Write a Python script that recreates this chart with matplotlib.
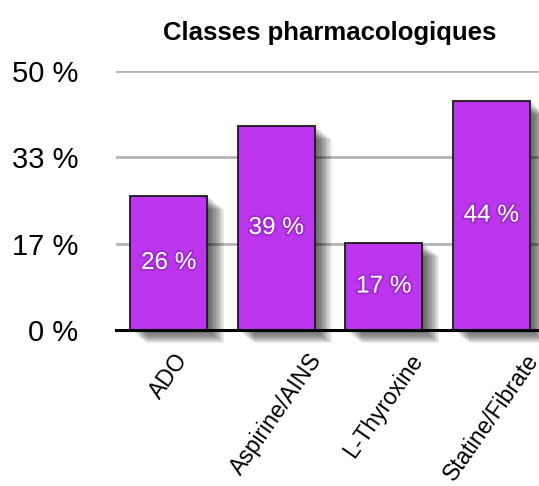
import numpy as np
import matplotlib
matplotlib.use('Agg')
import matplotlib.pyplot as plt
import matplotlib.patheffects as pe

# data
categories = ['ADO', 'Aspirine/AINS', 'L-Thyroxine', 'Statine/Fibrate']
values = [25.9, 39.4, 16.8, 44.2]
yticks = [0, 50/3., 100/3., 50]
yticklabels = ['0 %', '17 %', '33 %', '50 %']

plt.rcParams['font.family'] = ['Liberation Sans', 'DejaVu Sans']

fig = plt.figure(figsize=(5.39, 4.86), dpi=100)
ax = fig.add_axes([116/539., 156/486., 428/539., 259/486.])

x = np.arange(len(categories))
# soft drop shadow: many thin offset layers
shadow = [pe.SimplePatchShadow(offset=(k, -0.8*k), shadow_rgbFace='k', alpha=0.07)
          for k in range(12, 0, -1)] + [pe.Normal()]
bars = ax.bar(x, values, width=0.72, color='#bc36ee', edgecolor='#1a1a1a',
              linewidth=1.3, zorder=3, clip_on=False)
for b in bars:
    b.set_path_effects(shadow)

for xi, v in zip(x, values):
    t = ax.text(xi, v/2., '%.0f %%' % v, ha='center', va='center',
                color='white', fontsize=17.5, zorder=4)
    t.set_path_effects([pe.Stroke(linewidth=3, foreground='#6a1488', alpha=0.3), pe.Normal()])

ax.set_xlim(-0.49, 3.49)
ax.set_ylim(0, 50)
ax.set_yticks(yticks)
ax.set_yticklabels(yticklabels, fontsize=21)
ax.set_xticks(x)
ax.set_xticklabels(categories, rotation=55, ha='center', va='top', fontsize=16.5)
ax.tick_params(axis='both', length=0)
ax.tick_params(axis='y', pad=27)
ax.tick_params(axis='x', pad=14)

ax.yaxis.grid(True, color='#b4b4b4', linewidth=2, zorder=0)
for s in ['left', 'right', 'top']:
    ax.spines[s].set_visible(False)
ax.spines['bottom'].set_linewidth(2.2)
ax.spines['bottom'].set_color('k')
ax.spines['bottom'].set_zorder(5)

ax.set_title('Classes pharmacologiques', fontsize=18.5, fontweight='bold', pad=22)

plt.savefig('out.png', dpi=100)
